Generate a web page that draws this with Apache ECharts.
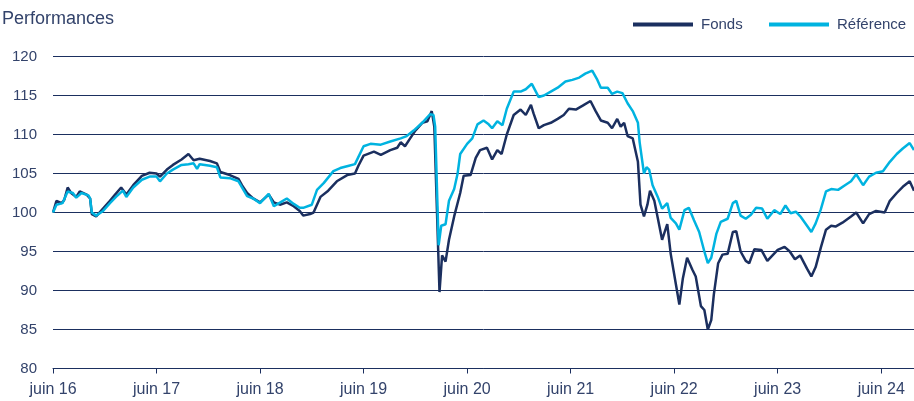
<!DOCTYPE html>
<html>
<head>
<meta charset="utf-8">
<script src="https://cdn.jsdelivr.net/npm/echarts@6/dist/echarts.min.js"></script>
<style>
  html, body { margin: 0; padding: 0; background: #fff; }
  #chart { width: 914px; height: 401px; }
</style>
</head>
<body>
<div id="chart"></div>
<script>
// mois écoulés depuis juin 2016
var monthsFonds = [0,0.4,1,1.3,1.7,2.1,2.7,3.1,3.9,4.3,4.5,5,5.8,6.6,7.2,7.9,8.5,9.3,10.3,11.2,12,12.4,13.2,13.9,14.9,15.7,16.3,17,18.2,19,19.4,20.5,21.5,21.9,22.5,23.2,24,25,25.6,26.3,27.1,27.9,28.6,29,29.8,30.2,31,31.9,32.9,34.1,35,35.4,36,37.2,38,39.1,39.9,40.3,40.8,41.4,42,42.8,43.4,43.9,44.2,44.8,45.1,45.5,45.9,46.5,47.2,47.6,48.4,49,49.5,50.3,50.9,51.5,52,52.6,53.4,54.2,54.8,55.4,55.7,56.3,56.9,57.7,58.5,59.2,59.8,60.6,61.4,62.3,62.9,63.5,64.3,64.8,65.4,65.8,66.2,66.6,67.2,67.8,68.1,68.5,68.9,69.2,69.7,70.1,70.6,71.2,71.6,72.2,72.6,73,73.5,74.1,74.5,75.1,75.5,75.9,76.3,76.6,77.1,77.6,78.2,78.8,79.2,79.7,80.3,80.7,81.3,82.1,82.8,83.4,84,84.8,85.4,86,86.6,87.4,87.9,88.4,89,89.6,90.2,90.7,91.5,92.5,93.1,93.9,94.6,95.4,96.4,97,97.8,98.5,99.3,99.8];
var fonds = [100,101.5,101.2,101.6,103.2,102.5,102,102.7,102.3,101.8,99.8,99.5,100.5,101.5,102.3,103.2,102.3,103.5,104.7,105.1,105,104.6,105.5,106.1,106.8,107.5,106.7,106.9,106.6,106.3,105.2,104.8,104.3,103.5,102.5,101.8,101.3,102.3,101.3,101,101.3,100.8,100.2,99.6,99.8,100,102,102.8,104,104.8,105,106,107.3,107.8,107.4,108,108.3,109,108.5,109.5,110.5,111.5,111.7,113,111,89.8,94.5,93.7,96.5,99.5,102.5,104.7,104.8,107,108,108.3,106.8,108,107.5,110,112.5,113.2,112.5,113.8,112.7,110.8,111.2,111.5,112,112.5,113.3,113.2,113.7,114.3,113,111.8,111.5,110.8,112,111,111.5,109.8,109.5,106.5,101,99.5,101,102.8,101.5,99.3,96.5,98.5,94.7,90.8,88.2,91.5,94.2,92.7,91.8,88,87.5,85,86.2,89.5,93.5,94.6,94.7,97.5,97.6,95,93.8,93.5,95.3,95.2,93.8,94.5,95.2,95.6,95,94,94.5,92.8,91.8,93,95.5,97.8,98.3,98.2,98.7,99.5,100,98.6,99.8,100.2,100,101.5,102.5,103.3,104,102.8];

var monthsRef = [0,0.4,1.1,1.7,2.3,2.7,3.3,4.1,4.3,4.5,5,5.8,6.6,7.3,8.1,8.5,9.3,10.3,11.2,12,12.4,13.2,13.9,14.9,15.7,16.3,16.7,17,18.2,19,19.4,20.5,21.5,22.5,23.2,24,25,25.6,26.5,27.1,27.9,28.6,29,30,30.6,31.4,32.5,33.3,34.3,35,36,36.8,38,39.1,40.3,41,41.8,42.8,43.7,44.1,44.3,44.7,45,45.5,45.9,46.5,46.9,47.2,48,48.6,49.2,49.9,50.5,50.9,51.5,52.1,52.6,53.4,54.2,54.8,55.5,56.3,56.9,57.7,58.5,59.4,60.2,61,61.7,62.5,63.1,63.5,64.3,64.8,65.4,66,66.6,67.2,67.8,68,68.5,68.8,69.1,69.5,70.1,70.6,71.2,71.6,72.2,72.6,73.2,73.7,74.3,74.9,75.5,75.9,76.3,76.9,77.4,78.2,78.8,79.2,79.7,80.3,80.9,81.5,82.2,82.8,83.6,84.3,84.9,85.5,86.1,86.7,87.4,87.9,88.4,89,89.6,90.2,91,91.8,92.5,93.1,93.9,94.6,95.4,96.2,97,97.8,98.5,99.3,99.8];
var reference = [100,101,101.2,102.7,102.5,101.9,102.5,102.2,101.8,100,99.6,100.2,101.2,102,102.8,102,103.2,104.2,104.6,104.6,104,105,105.5,106.1,106.2,106.3,105.6,106.2,106,105.8,104.5,104.4,104,102.1,101.8,101.2,102.4,100.8,101.4,101.8,101.1,100.6,100.6,101,102.9,103.8,105.3,105.7,106,106.2,108.5,108.8,108.7,109.1,109.5,109.8,110.5,111.5,112.6,112.5,111,95.8,98.3,98.5,101.5,103,105,107.5,108.8,109.5,111.3,111.8,111.3,110.8,111.7,111.2,113.3,115.5,115.5,115.8,116.5,114.8,115,115.5,116,116.8,117,117.3,117.8,118.2,117,116,116,115.2,115.5,115.3,114,113,111.5,109,105,105.8,105.5,103.5,102,100.5,101.2,99.3,98.6,97.8,100.3,100.6,99,97.5,95,93.5,94.2,97.3,98.8,99.2,101.2,101.5,99.6,99.2,99.7,100.6,100.5,99.2,100.3,99.8,100.9,99.9,100.1,99.4,98.3,97.5,98.6,100.4,102.7,103,102.9,103.5,104,104.9,103.5,104.6,105.1,105.3,106.5,107.5,108.2,108.9,108];

var yearTicks = [0, 12, 24, 36, 48, 60, 72, 84, 96];

var navy = '#1b2f5f';
var cyan = '#00b3e0';
var textColor = '#33436b';
var font = "'Liberation Sans', Arial, sans-serif";

function zip(xs, ys) {
  return xs.map(function (x, i) { return [x, ys[i]]; });
}

function legendAt(name, left) {
  return {
    left: left,
    top: 12,
    icon: 'rect',
    itemWidth: 60,
    itemHeight: 4,
    textStyle: { fontFamily: font, fontSize: 15, color: textColor, padding: [0, 0, 0, 3] },
    data: [name]
  };
}

var chart = echarts.init(document.getElementById('chart'));
chart.setOption({
  animation: false,
  title: {
    text: 'Performances',
    left: -3,
    top: 5,
    textStyle: { fontFamily: font, fontSize: 18, fontWeight: 'normal', color: textColor }
  },
  legend: [legendAt('Fonds', 628), legendAt('Référence', 764)],
  grid: { left: 53, right: 0, top: 56.5, bottom: 32.5, containLabel: false },
  xAxis: {
    type: 'value',
    min: 0,
    max: 99.8,
    interval: 12,
    axisLine: { show: true, lineStyle: { color: navy, width: 1 } },
    axisTick: { show: true, length: 5, lineStyle: { color: navy }, customValues: yearTicks },
    axisLabel: {
      customValues: yearTicks,
      margin: 13,
      fontFamily: font,
      fontSize: 16,
      color: textColor,
      formatter: function (v) { return 'juin ' + (16 + Math.round(v / 12)); }
    },
    splitLine: { show: false }
  },
  yAxis: {
    type: 'value',
    min: 80,
    max: 120,
    interval: 5,
    axisLine: { show: false },
    axisTick: { show: false },
    axisLabel: { margin: 16, fontFamily: font, fontSize: 15, color: textColor },
    splitLine: { show: true, lineStyle: { color: navy, width: 1 } }
  },
  series: [
    {
      name: 'Fonds',
      type: 'line',
      showSymbol: false,
      color: navy,
      lineStyle: { width: 2.5, color: navy },
      data: zip(monthsFonds, fonds)
    },
    {
      name: 'Référence',
      type: 'line',
      showSymbol: false,
      color: cyan,
      lineStyle: { width: 2.5, color: cyan },
      data: zip(monthsRef, reference)
    }
  ]
});
</script>
</body>
</html>
